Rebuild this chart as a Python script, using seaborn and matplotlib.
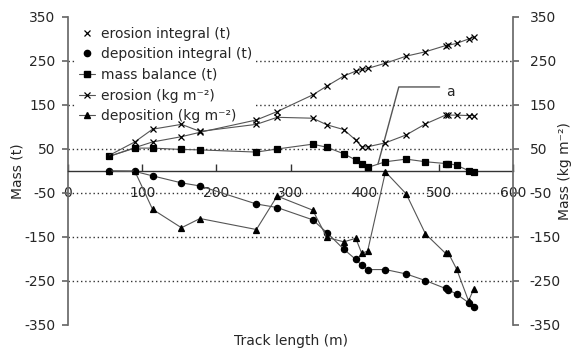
import matplotlib
matplotlib.use("Agg")
import matplotlib.pyplot as plt
import seaborn as sns
from matplotlib.lines import Line2D

# ---- data ----
track = [55, 90, 114, 153, 178, 254, 282, 330, 349, 372, 388, 396, 404, 428,
         456, 482, 509, 513, 524, 540, 547]
erosion_integral = [33, 53, 66, 78, 88, 116, 135, 173, 193, 216, 227, 231, 233,
                    245, 261, 271, 285, 286, 290, 300, 304]
deposition_integral = [0, -1, -11, -27, -34, -75, -83, -111, -140, -178, -201,
                       -214, -224, -224, -234, -249, -267, -270, -280, -299, -308]
mass_balance = [33, 52, 52, 49, 48, 43, 50, 61, 54, 39, 25, 17, 8, 21, 27, 21,
                17, 17, 13, 1, -3]
erosion_kgm2 = [35, 66, 95, 106, 90, 106, 122, 120, 105, 94, 70, 55, 55, 64, 82,
                107, 127, 127, 127, 126, 126]
deposition_kgm2 = [0, 0, -87, -129, -108, -133, -57, -89, -151, -161, -153, -187,
                   -182, -2, -52, -143, -187, -187, -223, -295, -269]

labels = ["erosion integral (t)", "deposition integral (t)", "mass balance (t)",
          "erosion (kg m\u207b\u00b2)", "deposition (kg m\u207b\u00b2)"]
x_ticks = [0, 100, 200, 300, 400, 500, 600]
y_ticks = [350, 250, 150, 50, -50, -150, -250, -350]
grid_levels = [250, 150, 50, -50, -150, -250]
annot_x = [418, 446, 501]
annot_y = [16, 191, 191]

sns.set_theme(style="white")
plt.rcParams["font.family"] = ["DejaVu Sans"]
plt.rcParams["font.size"] = 10

fig = plt.figure(figsize=(5.74, 3.52), dpi=100)
ax = fig.add_axes([68 / 574, 1 - 325 / 352, (513 - 68) / 574, (325 - 17) / 352])
ax2 = ax.twinx()

line_col = "#555555"
spine_col = "#6a6a6a"

for lvl in grid_levels:
    ax.axhline(lvl, color="#333333", lw=1.0, ls=(0, (1, 2)), zorder=0)

ms = 4.5
styles = [
    (ax, erosion_integral, "x"),
    (ax, deposition_integral, "o"),
    (ax, mass_balance, "s"),
    (ax2, erosion_kgm2, "x"),
    (ax2, deposition_kgm2, "^"),
]
for a, vals, m in styles:
    sns.lineplot(x=track, y=vals, ax=a, color=line_col, lw=0.8, marker=m,
                 markersize=ms, markerfacecolor="black", markeredgecolor="black",
                 markeredgewidth=0.9, errorbar=None, legend=False, zorder=3)

ax2.plot(annot_x, annot_y, color="#555555", lw=1.0)
ax2.text(510, 180, "a", ha="left", va="center", fontsize=10)

for a in (ax, ax2):
    a.set_xlim(0, 600)
    a.set_ylim(-350, 350)
    a.set_yticks(y_ticks)
    a.set_yticklabels([str(v) for v in y_ticks])
    a.spines["top"].set_visible(False)

ax.spines["right"].set_visible(False)
ax.spines["left"].set_color(spine_col)
ax.spines["bottom"].set_position(("data", 0))
ax.spines["bottom"].set_color("#333333")
ax.spines["bottom"].set_linewidth(1.0)
ax2.spines["left"].set_visible(False)
ax2.spines["bottom"].set_visible(False)
ax2.spines["right"].set_color(spine_col)

ax.set_xticks(x_ticks)
ax.set_xticklabels([str(v) for v in x_ticks])
ax.tick_params(axis="x", direction="in", length=5, width=1, color="#333333",
               pad=11, labelsize=10, bottom=True)
ax.tick_params(axis="y", direction="out", length=4, color=spine_col, pad=5,
               labelsize=10, left=True)
ax2.tick_params(axis="y", direction="out", length=4, color=spine_col, pad=8,
                labelsize=10, right=True)

ax.set_xlabel("Track length (m)", fontsize=10)
ax.xaxis.set_label_coords(0.5, -0.03)
ax.set_ylabel("Mass (t)", fontsize=10)
ax.yaxis.set_label_coords(-0.098, 0.5)
ax2.set_ylabel("Mass (kg m\u207b\u00b2)", fontsize=10, rotation=90)
ax2.yaxis.set_label_coords(1.1, 0.5)

handles = [
    Line2D([], [], ls="none", marker="x", color="black", ms=ms, mew=0.9),
    Line2D([], [], ls="none", marker="o", color="black", ms=ms),
    Line2D([], [], color=line_col, lw=0.8, marker="s", mfc="black", mec="black", ms=ms),
    Line2D([], [], color=line_col, lw=0.8, marker="x", mfc="black", mec="black", ms=ms, mew=0.9),
    Line2D([], [], color=line_col, lw=0.8, marker="^", mfc="black", mec="black", ms=ms),
]
leg = ax.legend(handles, labels, loc="upper left", bbox_to_anchor=(0.018, 0.98),
                frameon=True, facecolor="white", edgecolor="none", framealpha=1,
                fontsize=10, handlelength=1.1, handletextpad=0.45,
                labelspacing=0.48, borderpad=0.25, borderaxespad=0)
leg.get_frame().set_linewidth(0)
leg.set_zorder(1.5)

fig.savefig("out.png", dpi=100, facecolor="white")
